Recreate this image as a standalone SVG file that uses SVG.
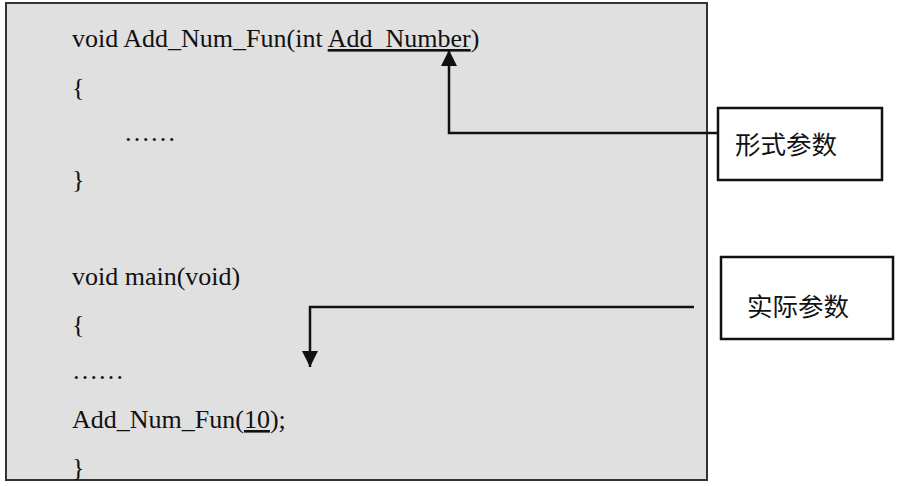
<svg xmlns="http://www.w3.org/2000/svg" width="900" height="486" viewBox="0 0 900 486">
<defs>
<style>
.code{font-family:"Liberation Serif","Times New Roman",serif;font-size:26px;fill:#111}
.cjk{font-family:"Noto Sans CJK SC",sans-serif;font-size:25.5px;fill:#111}
.box{fill:#fff;stroke:#111;stroke-width:2.5}
.conn{fill:none;stroke:#111;stroke-width:2.5}
.u{text-decoration:underline}
</style>
<marker id="ah" viewBox="0 0 10 10" refX="10" refY="5" markerWidth="16" markerHeight="16" markerUnits="userSpaceOnUse" orient="auto">
<path d="M0,0 L10,5 L0,10 Z" fill="#111"/>
</marker>
</defs>
<rect width="900" height="486" fill="#fff"/>
<g id="code-panel">
<rect x="6" y="3" width="701" height="477" fill="#e0e0e0" stroke="#333" stroke-width="2"/>
<g stroke="#e5e5e5" stroke-width="1">
<line x1="8" y1="195" x2="705" y2="195"/>
<line x1="8" y1="242" x2="705" y2="242"/>
<line x1="8" y1="290" x2="705" y2="290"/>
<line x1="8" y1="400" x2="705" y2="400"/>
</g>
<text class="code" x="72" y="47">void Add_Num_Fun(int <tspan class="u">Add_Number</tspan>)</text>
<text class="code" x="72" y="96">{</text>
<text class="code" x="124" y="141">……</text>
<text class="code" x="72" y="188">}</text>
<text class="code" x="72" y="285">void main(void)</text>
<text class="code" x="72" y="333">{</text>
<text class="code" x="72" y="379">……</text>
<text class="code" x="72" y="428">Add_Num_Fun(<tspan class="u">10</tspan>);</text>
<text class="code" x="72" y="476">}</text>
</g>
<g id="formal-param">
<rect class="box" x="718" y="108" width="164" height="72"/>
<text class="cjk" x="735" y="154">形式参数</text>
</g>
<g id="actual-param">
<rect class="box" x="721" y="257" width="172" height="82"/>
<text class="cjk" x="747" y="316">实际参数</text>
</g>
<g id="connectors">
<polyline class="conn" points="718,133 449,133 449,50" marker-end="url(#ah)"/>
<polyline class="conn" points="694,307 310,307 310,367" marker-end="url(#ah)"/>
</g>
</svg>
